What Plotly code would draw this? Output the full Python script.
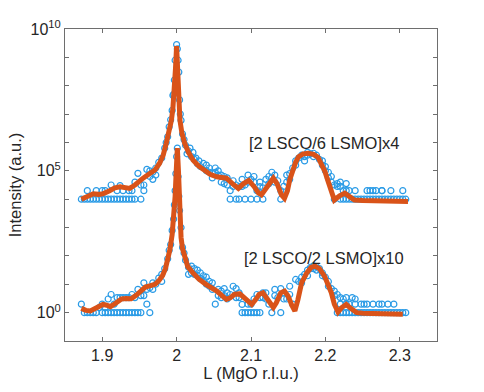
import numpy as np
import plotly.graph_objects as go

# scan grid in L (MgO r.l.u.)
L_grid = np.round(np.arange(1.872, 2.3081, 0.004), 3)

# measured points, log10 of intensity (offset scans)
sl22_logI = [0.30, 0.00, 0.00, 0.00, 0.00, 0.00, 0.18, 0.30, 0.00, 0.48,
             0.64, 0.30, 0.00, 0.53, 0.53, 0.53, 0.53, 0.64, 0.00, 0.82,
             0.60, 1.05, 0.30, 0.00, 0.82, 1.00, 1.22, 1.35, 1.55, 1.90,
             2.40, 3.30, 5.50, 3.60, 2.30, 1.85, 1.60, 1.64, 1.35, 1.30,
             1.20, 1.15, 1.00, 1.10, 1.05, 0.30, 0.82, 0.53, 0.60, 0.48,
             0.64, 0.93, 0.53, 0.70, 0.29, 0.00, 0.30, 0.00, 0.48, 0.64,
             0.53, 0.70, 0.48, 0.30, 0.00, 0.82, 0.53, 0.85, 0.70, 0.48,
             0.93, 0.30, 1.17, 1.10, 1.25, 1.35, 1.50, 1.60, 1.65, 1.62,
             1.55, 1.40, 1.25, 1.10, 0.85, 0.76, 0.64, 0.53, 0.48, 0.53,
             0.30, 0.53, 0.30, 0.00, 0.30, 0.00, 0.30, 0.00, 0.00, 0.00,
             0.00, 0.30, 0.00, 0.30, 0.00, 0.30, 0.00, 0.00, 0.00, 0.00]

sl22_extra_L = [1.994, 1.997, 1.998, 1.999, 2.001, 2.002, 2.003, 2.006, 2.010, 1.990,
                1.900, 1.908, 1.912, 1.916, 1.924, 1.928, 1.932, 1.936, 1.940, 1.948,
                1.952, 2.088, 2.096, 2.104, 2.108, 2.112, 2.140, 2.216, 2.220, 2.224,
                2.228, 2.232, 2.236, 2.240, 2.248, 2.256, 2.276, 2.284, 2.292,
                1.904, 1.920, 1.944, 1.956, 1.960, 1.964, 1.968, 1.980, 2.016, 2.020,
                2.024, 2.028, 2.032, 2.036, 2.040, 2.044, 2.048, 2.056, 2.060, 2.064,
                2.068, 2.080, 2.084, 2.100, 2.116, 2.120, 2.132, 2.144, 2.152, 2.168,
                2.176, 2.180, 2.184, 2.188, 2.196, 2.204, 2.212, 2.220, 2.228, 2.240,
                2.252, 2.264, 2.272]
sl22_extra_logI = [2.90, 3.80, 4.30, 4.90, 5.80, 4.80, 4.10, 3.00, 2.10, 2.20,
                   0.00, 0.00, 0.00, 0.00, 0.00, 0.00, 0.00, 0.00, 0.00, 0.00,
                   0.00, 0.00, 0.00, 0.00, 0.00, 0.00, 0.00, 0.00, 0.00, 0.00,
                   0.00, 0.00, 0.00, 0.00, 0.00, 0.00, 0.00, 0.00, 0.00,
                   0.18, 0.53, 0.53, 0.60, 0.82, 0.88, 1.05, 1.10, 1.35, 1.40,
                   1.55, 1.50, 1.40, 1.30, 1.25, 0.93, 0.82, 0.60, 0.76, 0.85,
                   0.70, 0.85, 0.53, 0.30, 0.53, 0.70, 0.60, 0.48, 0.64, 1.05,
                   1.30, 1.55, 1.55, 1.50, 1.30, 0.93, 0.60, 0.30, 0.30, 0.48,
                   0.30, 0.30, 0.30]

sl26_logI = [4.00, 4.00, 4.30, 4.00, 4.00, 4.30, 4.00, 4.30, 4.30, 4.00,
             4.50, 4.00, 4.30, 4.48, 4.30, 4.00, 4.30, 4.30, 4.60, 4.91,
             4.50, 4.30, 5.05, 4.80, 4.95, 5.10, 5.30, 5.45, 5.80, 6.20,
             6.80, 7.70, 9.45, 7.50, 6.30, 5.90, 5.70, 5.50, 5.40, 5.25,
             5.15, 5.26, 5.00, 4.95, 4.90, 4.95, 4.85, 4.60, 4.80, 4.50,
             4.30, 4.65, 4.50, 4.44, 4.70, 4.50, 4.85, 4.70, 4.60, 4.30,
             4.60, 4.40, 4.70, 4.80, 4.75, 4.60, 4.65, 4.30, 4.45, 4.60,
             4.90, 5.10, 5.35, 5.45, 5.55, 5.50, 5.55, 5.60, 5.50, 5.55,
             5.40, 5.20, 5.00, 4.75, 4.60, 4.50, 4.55, 4.45, 4.30, 4.55,
             4.30, 4.00, 4.30, 4.00, 4.00, 4.00, 4.30, 4.30, 4.00, 4.30,
             4.00, 4.30, 4.00, 4.00, 4.30, 4.00, 4.00, 4.00, 4.30, 4.00]

sl26_extra_L = [1.990, 1.994, 1.995, 1.997, 1.998, 2.001, 2.002, 2.003, 2.005, 2.006,
                1.986, 2.010, 2.014, 2.018, 2.022, 2.026, 2.030,
                1.880, 1.892, 1.900, 1.904, 1.912, 1.920, 1.924, 1.928, 1.936, 1.940,
                1.944, 1.952, 2.072, 2.080, 2.084, 2.092, 2.100, 2.108, 2.116, 2.140,
                2.212, 2.220, 2.224, 2.228, 2.232, 2.240, 2.256, 2.260, 2.268, 2.276,
                2.288, 2.304,
                1.956, 1.964, 1.968, 1.972, 2.040, 2.044, 2.048, 2.052, 2.056, 2.060,
                2.064, 2.068, 2.076, 2.088, 2.096, 2.104, 2.112, 2.124, 2.128, 2.132,
                2.148, 2.152, 2.160, 2.172, 2.176, 2.184, 2.196, 2.200, 2.204, 2.208,
                2.216, 2.220, 2.228, 2.264, 2.276]
sl26_extra_logI = [6.55, 7.13, 7.66, 8.20, 8.90, 9.30, 8.90, 8.48, 7.00, 6.78,
                   6.00, 6.10, 5.60, 5.80, 5.65, 5.45, 5.35,
                   4.00, 4.00, 4.00, 4.00, 4.00, 4.00, 4.00, 4.00, 4.00, 4.00,
                   4.00, 4.00, 4.00, 4.00, 4.00, 4.00, 4.00, 4.00, 4.00, 4.00,
                   4.00, 4.00, 4.00, 4.00, 4.00, 4.00, 4.00, 4.00, 4.00, 4.00,
                   4.00, 4.00,
                   4.50, 5.00, 4.70, 4.85, 5.20, 5.10, 4.75, 5.10, 5.00, 4.85,
                   4.55, 4.75, 4.45, 4.45, 4.60, 4.80, 4.44, 4.55, 4.95, 4.85,
                   4.85, 4.70, 5.20, 5.35, 5.65, 5.62, 5.35, 5.15, 4.95, 4.80,
                   4.45, 4.60, 4.30, 4.30, 4.30]

# fitted curves, log10 of intensity
sl22_fit_L = [1.872, 1.878, 1.884, 1.892, 1.901, 1.906, 1.911, 1.918, 1.926, 1.932,
              1.939, 1.946, 1.952, 1.958, 1.965, 1.971, 1.976, 1.981, 1.985, 1.988,
              1.991, 1.994, 1.996, 1.998, 1.9995, 2.001, 2.0025, 2.004, 2.006, 2.008,
              2.011, 2.015, 2.022, 2.030, 2.040, 2.047, 2.054, 2.061, 2.067, 2.072,
              2.078, 2.085, 2.090, 2.095, 2.101, 2.106, 2.111, 2.116, 2.121, 2.126,
              2.130, 2.134, 2.140, 2.145, 2.150, 2.155, 2.159, 2.163, 2.168, 2.175,
              2.181, 2.186, 2.192, 2.199, 2.204, 2.208, 2.212, 2.217, 2.222, 2.228,
              2.234, 2.242, 2.250, 2.260, 2.270, 2.280, 2.290, 2.304]
sl22_fit_logI = [0.15, 0.08, 0.06, 0.18, 0.29, 0.26, 0.21, 0.33, 0.48, 0.50,
                 0.49, 0.62, 0.78, 0.90, 0.95, 1.00, 1.12, 1.30, 1.55, 1.85,
                 2.22, 2.75, 3.30, 4.10, 5.00, 5.80, 5.00, 3.40, 2.65, 2.25,
                 1.90, 1.62, 1.40, 1.18, 0.99, 0.88, 0.76, 0.60, 0.47, 0.52,
                 0.65, 0.66, 0.55, 0.40, 0.29, 0.45, 0.65, 0.70, 0.52, 0.28,
                 0.18, 0.35, 0.70, 0.76, 0.58, 0.25, 0.06, 0.45, 1.05, 1.40,
                 1.60, 1.64, 1.55, 1.28, 0.98, 0.70, 0.30, 0.02, 0.18, 0.29,
                 0.15, 0.00, -0.02, -0.03, -0.02, -0.04, -0.05, -0.06]

sl26_fit_L = [1.872, 1.880, 1.888, 1.895, 1.901, 1.910, 1.917, 1.924, 1.930, 1.937,
              1.944, 1.950, 1.955, 1.962, 1.971, 1.977, 1.982, 1.986, 1.990, 1.993,
              1.995, 1.997, 1.9985, 2.000, 2.0015, 2.003, 2.0045, 2.007, 2.011, 2.016,
              2.022, 2.029, 2.036, 2.045, 2.054, 2.061, 2.067, 2.075, 2.083, 2.090,
              2.097, 2.104, 2.110, 2.114, 2.120, 2.126, 2.130, 2.135, 2.141, 2.145,
              2.149, 2.152, 2.156, 2.160, 2.164, 2.170, 2.177, 2.184, 2.190, 2.195,
              2.199, 2.203, 2.207, 2.212, 2.219, 2.226, 2.232, 2.239, 2.250, 2.260,
              2.270, 2.280, 2.290, 2.300, 2.311]
sl26_fit_logI = [4.00, 4.10, 4.19, 4.17, 4.19, 4.30, 4.40, 4.44, 4.40, 4.38,
                 4.50, 4.65, 4.74, 4.87, 5.03, 5.26, 5.55, 5.96, 6.40, 6.78,
                 7.20, 7.80, 8.60, 9.40, 8.60, 7.70, 6.78, 6.35, 5.96, 5.65,
                 5.38, 5.18, 5.03, 4.88, 4.79, 4.77, 4.74, 4.55, 4.38, 4.55,
                 4.66, 4.45, 4.22, 4.15, 4.35, 4.62, 4.74, 4.55, 4.15, 4.03,
                 4.30, 4.68, 5.03, 5.30, 5.50, 5.60, 5.62, 5.58, 5.48, 5.25,
                 5.00, 4.68, 4.30, 3.97, 4.12, 4.21, 4.10, 3.97, 3.95, 3.95,
                 3.94, 3.93, 3.93, 3.92, 3.92]

labels = ['[2 LSCO/6 LSMO]x4', '[2 LSCO/2 LSMO]x10']
label_pos = [(2.094, 5.98), (2.0885, 1.94)]

dot_color = '#2a9be6'
fit_color = '#d95319'
ax_color = '#6e6e6e'
txt_color = '#262626'
font_family = 'Liberation Sans, Arial, sans-serif'

fig = go.Figure()

for grid_vals, ex_L, ex_vals in [(sl22_logI, sl22_extra_L, sl22_extra_logI),
                                 (sl26_logI, sl26_extra_L, sl26_extra_logI)]:
    xs = list(L_grid) + ex_L
    ys = 10 ** np.array(list(grid_vals) + ex_vals)
    fig.add_trace(go.Scatter(
        x=xs, y=ys, mode='markers',
        marker=dict(symbol='circle-open', size=6, color=dot_color,
                    line=dict(width=1.2, color=dot_color)),
        showlegend=False
    ))

for fx, fy in [(sl22_fit_L, sl22_fit_logI), (sl26_fit_L, sl26_fit_logI)]:
    fig.add_trace(go.Scatter(
        x=fx, y=10 ** np.array(fy), mode='lines',
        line=dict(color=fit_color, width=5),
        showlegend=False
    ))

for text, (lx, ly) in zip(labels, label_pos):
    fig.add_annotation(x=lx, y=ly, xref='x', yref='y', text=text,
                       showarrow=False, xanchor='left', yanchor='middle',
                       font=dict(size=16.5, color=txt_color, family=font_family))

# every decade gets a tick mark, only three are labelled
minor_decades = [d for d in range(-1, 11) if d not in (0, 5, 10)]

fig.update_layout(
    width=484, height=392, autosize=False,
    margin=dict(l=65, r=47, t=29, b=51),
    paper_bgcolor='white', plot_bgcolor='white',
    font=dict(family=font_family, size=16, color=txt_color),
    xaxis=dict(
        range=[1.85, 2.35],
        tickvals=[1.9, 2.0, 2.1, 2.2, 2.3],
        ticktext=['1.9', '2', '2.1', '2.2', '2.3'],
        ticks='inside', ticklen=4, tickcolor=ax_color,
        showline=True, linecolor=ax_color, linewidth=1, mirror='ticks',
        showgrid=False, zeroline=False,
        title=dict(text='L (MgO r.l.u.)', standoff=2, font=dict(size=16.5)),
    ),
    yaxis=dict(
        type='log', range=[-1, 10],
        tickvals=[1, 1e5, 1e10],
        ticktext=['10<sup>0</sup>', '10<sup>5</sup>', '10<sup>10</sup>'],
        ticks='inside', ticklen=4, tickcolor=ax_color,
        minor=dict(tickmode='array', tickvals=[10.0 ** d for d in minor_decades],
                   ticks='inside', ticklen=4, tickcolor=ax_color, showgrid=False),
        showline=True, linecolor=ax_color, linewidth=1, mirror='ticks',
        showgrid=False, zeroline=False,
        title=dict(text='Intensity (a.u.)', standoff=4, font=dict(size=16.5)),
    ),
)

fig.write_html("out.html", config={'displayModeBar': False},
               post_script="document.body.style.margin='0';")
